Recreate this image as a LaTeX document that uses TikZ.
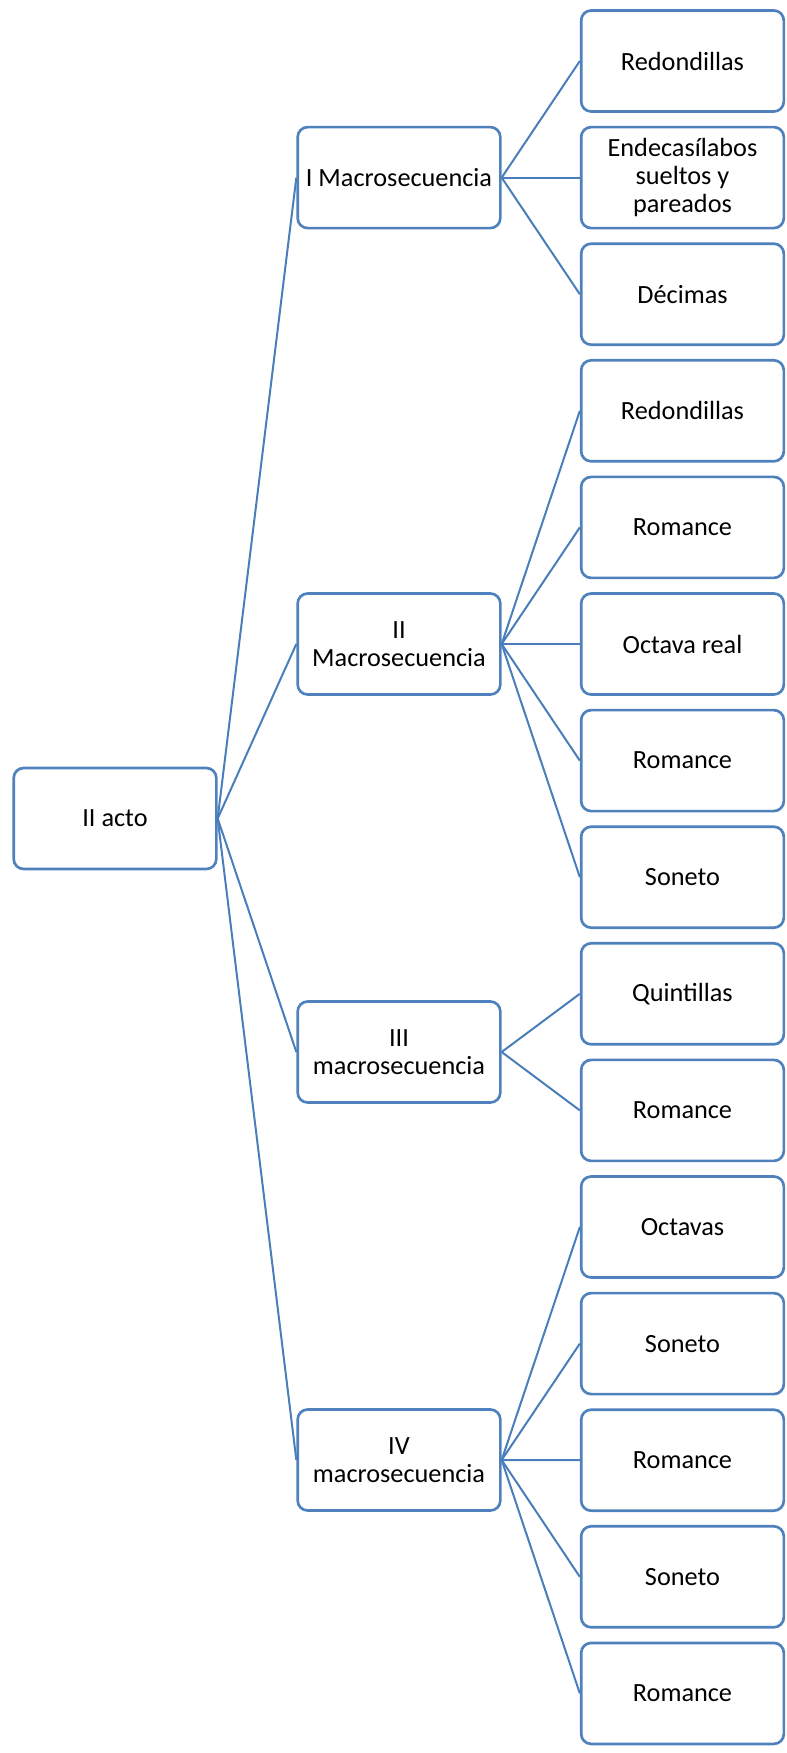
\documentclass[tikz,border=0pt]{standalone}
\usepackage{fontspec}
\setmainfont{Carlito}
\definecolor{boxblue}{HTML}{4F81BD}
\definecolor{lineblue}{HTML}{4A7EBB}
\begin{document}
\begin{tikzpicture}[x=0.75pt,y=-0.75pt,
  box/.style={draw=boxblue,line width=2pt,rounded corners=7.5pt,fill=white,
    minimum width=152pt,minimum height=75.75pt,inner sep=0pt,align=center,
    font=\fontsize{19.7}{21.2}\selectfont},
  conn/.style={draw=lineblue,line width=1.5pt}]
\useasboundingbox (0,0) rectangle (787,1753);
% leaves: center y = 61 + 116.6 i
\foreach \i/\t in {0/Redondillas,1/{Endecasílabos\\sueltos y\\pareados},2/Décimas,3/Redondillas,4/Romance,5/Octava real,6/Romance,7/Soneto,8/Quintillas,9/Romance,10/Octavas,11/Soneto,12/Romance,13/Soneto,14/Romance}{
  \node[box] (l\i) at (682.5,{61+116.6*\i}) {\t};
}
\node[box] (m1) at (399,177.6) {I Macrosecuencia};
\node[box] (m2) at (399,644) {II\\Macrosecuencia};
\node[box] (m3) at (399,1052) {III\\macrosecuencia};
\node[box] (m4) at (399,1460) {IV\\macrosecuencia};
\node[box] (r) at (115,818.5) {II acto};
\foreach \m in {1,2,3,4}{\draw[conn] (r.east) -- (m\m.west);}
\foreach \i in {0,1,2}{\draw[conn] (m1.east) -- (l\i.west);}
\foreach \i in {3,4,5,6,7}{\draw[conn] (m2.east) -- (l\i.west);}
\foreach \i in {8,9}{\draw[conn] (m3.east) -- (l\i.west);}
\foreach \i in {10,11,12,13,14}{\draw[conn] (m4.east) -- (l\i.west);}
\end{tikzpicture}
\end{document}
